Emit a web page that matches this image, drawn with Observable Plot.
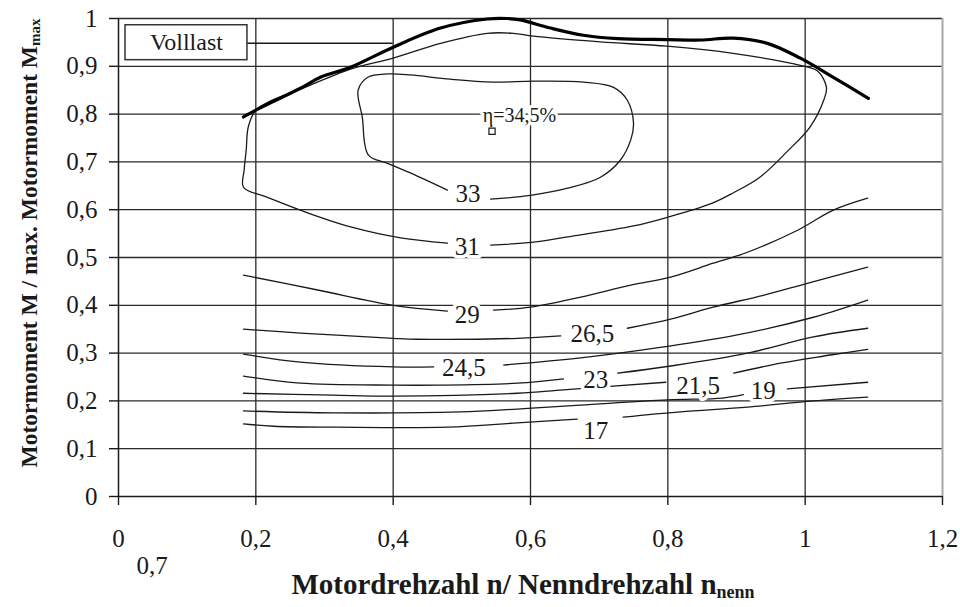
<!DOCTYPE html>
<html><head><meta charset="utf-8">
<script src="https://cdn.jsdelivr.net/npm/d3@7"></script>
<script src="https://cdn.jsdelivr.net/npm/@observablehq/plot@0.6"></script>
<style>body{margin:0;background:#fff} svg{display:block} svg text{font-family:"Liberation Serif","Times New Roman",serif !important}</style>
</head><body><div id="chart"></div>
<script>
// ---- ticks ----
const xTicks = [0, 0.2, 0.4, 0.6, 0.8, 1, 1.2];
const yTicks = [0, 0.1, 0.2, 0.3, 0.4, 0.5, 0.6, 0.7, 0.8, 0.9, 1];
const fmt = d => String(d).replace(".", ",");

// ---- full load curve (Volllast) ----
const fullLoadX = [0.182,0.202,0.265,0.294,0.338,0.400,0.469,0.537,0.566,0.585,0.629,0.677,0.727,0.799,0.848,0.895,0.945,0.993,1.041,1.092];
const fullLoadY = [0.794,0.810,0.854,0.877,0.898,0.940,0.980,0.999,1.000,0.997,0.980,0.965,0.958,0.956,0.955,0.959,0.948,0.917,0.877,0.833];

// ---- efficiency iso-lines (segments split where the label sits) ----
const iso33 = [[[0.542,0.622],[0.600,0.630],[0.654,0.645],[0.702,0.668],[0.731,0.704],[0.746,0.746],[0.750,0.781],[0.741,0.829],[0.721,0.856],[0.677,0.867],[0.604,0.869],[0.546,0.867],[0.483,0.873],[0.425,0.882],[0.392,0.884],[0.363,0.877],[0.349,0.850],[0.355,0.794],[0.364,0.714],[0.392,0.697],[0.425,0.677],[0.479,0.641]]];
const iso31 = [[[0.542,0.526],[0.604,0.532],[0.654,0.543],[0.750,0.566],[0.799,0.584],[0.862,0.612],[0.895,0.635],[0.934,0.668],[0.974,0.722],[1.007,0.773],[1.027,0.829],[1.031,0.856],[1.018,0.890],[0.993,0.902],[0.895,0.927],[0.799,0.942],[0.702,0.951],[0.604,0.963],[0.575,0.969],[0.537,0.969],[0.469,0.948],[0.400,0.917],[0.338,0.894],[0.265,0.852],[0.221,0.827],[0.200,0.808],[0.189,0.773],[0.186,0.725],[0.183,0.683],[0.182,0.647],[0.217,0.626],[0.294,0.584],[0.338,0.564],[0.411,0.541],[0.479,0.530]]];
const iso29 = [[[0.182,0.463],[0.290,0.432],[0.400,0.400],[0.479,0.388]],
               [[0.546,0.390],[0.600,0.396],[0.673,0.417],[0.746,0.442],[0.804,0.459],[0.866,0.488],[0.916,0.511],[0.989,0.557],[1.041,0.599],[1.091,0.624]]];
const iso265 = [[[0.182,0.350],[0.265,0.342],[0.400,0.331],[0.435,0.329],[0.581,0.331],[0.644,0.336]],
                [[0.741,0.352],[0.804,0.371],[0.866,0.396],[0.939,0.421],[1.003,0.446],[1.091,0.480]]];
const iso245 = [[[0.182,0.298],[0.265,0.281],[0.400,0.271],[0.459,0.271]],
                [[0.561,0.275],[0.673,0.290],[0.794,0.313],[0.901,0.338],[1.012,0.375],[1.091,0.411]]];
const iso23 = [[[0.182,0.252],[0.265,0.237],[0.400,0.233],[0.465,0.233],[0.581,0.237],[0.648,0.246]],
               [[0.727,0.258],[0.804,0.273],[0.916,0.300],[1.012,0.334],[1.091,0.352]]];
const iso215 = [[[0.182,0.216],[0.313,0.212],[0.400,0.210],[0.581,0.216],[0.648,0.223],[0.797,0.239]],
                [[0.896,0.258],[0.964,0.279],[1.037,0.296],[1.091,0.308]]];
const iso19 = [[[0.182,0.179],[0.313,0.175],[0.498,0.177],[0.581,0.183],[0.673,0.191],[0.799,0.202],[0.880,0.206],[0.910,0.213]],
               [[0.974,0.225],[1.091,0.239]]];
const iso17 = [[[0.182,0.152],[0.226,0.147],[0.319,0.145],[0.479,0.145],[0.581,0.154],[0.668,0.162]],
               [[0.735,0.166],[0.818,0.177],[0.916,0.187],[1.012,0.200],[1.091,0.208]]];

// ---- iso-line labels ----
const labelText = ["33", "31", "29", "26,5", "24,5", "23", "21,5", "19", "17"];
const labelX    = [0.509, 0.508, 0.508, 0.690, 0.503, 0.695, 0.844, 0.939, 0.695];
const labelY    = [0.632, 0.521, 0.380, 0.340, 0.269, 0.243, 0.231, 0.220, 0.137];

// ---- best point ----
const bestText = "η=34,5%";
const bestLabel = [0.584, 0.797];
const bestPoint = [0.544, 0.764];

// ---- legend box "Volllast" ----
const legendText = "Volllast";
const legendBox = [0.0102, 0.1878, 0.9128, 0.9859];   // x1, x2, y1, y2
const legendLeader = [0.1878, 0.400, 0.9483];         // x1, x2, y

// build tables
const isoSets = [["33",iso33],["31",iso31],["29",iso29],["26,5",iso265],["24,5",iso245],["23",iso23],["21,5",iso215],["19",iso19],["17",iso17]];
const isoRows = [];
isoSets.forEach(([lvl, segs]) => segs.forEach((seg, i) => seg.forEach(([x, y]) => isoRows.push({id: lvl + "-" + i, x, y}))));
const fullLoad = fullLoadX.map((x, i) => ({x, y: fullLoadY[i]}));
const labels = labelText.map((t, i) => ({t, x: labelX[i], y: labelY[i]}));

const font = '"Liberation Serif", "Times New Roman", serif';
const ink = "#1a1a1a";

const chart = Plot.plot({
  width: 960, height: 607,
  marginLeft: 118, marginRight: 18, marginTop: 18, marginBottom: 111,
  x: {domain: [0, 1.2]},
  y: {domain: [0, 1]},
  style: {fontFamily: font, background: "white", color: ink},
  marks: [
    Plot.gridY(yTicks.filter(t => t > 0), {stroke: "#2a2a2a", strokeOpacity: 1, strokeWidth: 1.3}),
    Plot.gridX(xTicks.filter(t => t > 0 && t < 1.2), {stroke: "#2a2a2a", strokeOpacity: 1, strokeWidth: 1.3}),
    Plot.ruleX([1.2], {stroke: "#a8a8a8", strokeWidth: 2}),
    Plot.ruleX([0], {stroke: ink, strokeWidth: 1.5}),
    Plot.ruleY([0], {stroke: ink, strokeWidth: 1.5}),
    Plot.axisY(yTicks, {tickSize: 9, tickPadding: 12, fontSize: 25, fontFamily: font, tickFormat: fmt, label: null, stroke: ink, strokeWidth: 1.4}),
    Plot.axisX(xTicks, {tickSize: 9, tickPadding: 24, fontSize: 25, fontFamily: font, tickFormat: fmt, label: null, stroke: ink, strokeWidth: 1.4}),
    Plot.line(isoRows, {x: "x", y: "y", z: "id", curve: "catmull-rom", stroke: ink, strokeWidth: 1.3}),
    Plot.line(fullLoad, {x: "x", y: "y", curve: "catmull-rom", stroke: "#000", strokeWidth: 3.2}),
    Plot.text(labels, {x: "x", y: "y", text: "t", fontSize: 25, fontFamily: font, fill: ink, stroke: "white", strokeWidth: 7, paintOrder: "stroke", lineAnchor: "middle"}),
    Plot.text([bestLabel], {x: d => d[0], y: d => d[1], text: () => bestText, fontSize: 20, fontFamily: font, fill: ink, stroke: "white", strokeWidth: 6, paintOrder: "stroke", lineAnchor: "middle"}),
    Plot.dot([bestPoint], {x: d => d[0], y: d => d[1], symbol: "square", r: 3.5, fill: "white", stroke: ink, strokeWidth: 1.2}),
    Plot.ruleY([legendLeader], {x1: d => d[0], x2: d => d[1], y: d => d[2], stroke: ink, strokeWidth: 1.4}),
    Plot.rect([legendBox], {x1: d => d[0], x2: d => d[1], y1: d => d[2], y2: d => d[3], fill: "white", stroke: "#333", strokeWidth: 1.5}),
    Plot.text([legendBox], {x: d => (d[0] + d[1]) / 2, y: d => (d[2] + d[3]) / 2, text: () => legendText, fontSize: 24, fontFamily: font, fill: ink, lineAnchor: "middle"})
  ]
});
document.getElementById("chart").appendChild(chart);

// axis titles (with subscripts)
const svg = d3.select(chart);
const xt = svg.append("text").attr("x", 523).attr("y", 594).attr("text-anchor", "middle")
  .attr("font-family", font).attr("font-weight", "bold").attr("font-size", 29).attr("fill", ink);
xt.append("tspan").text("Motordrehzahl n/ Nenndrehzahl n");
xt.append("tspan").attr("font-size", 18).attr("dy", 4).text("nenn");

const yt = svg.append("text").attr("transform", "translate(37,243) rotate(-90)").attr("text-anchor", "middle")
  .attr("font-family", font).attr("font-weight", "bold").attr("font-size", 23.5).attr("fill", ink);
yt.append("tspan").text("Motormoment M / max. Motormoment M");
yt.append("tspan").attr("font-size", 15).attr("dy", 3).text("max");

svg.append("text").attr("x", 152).attr("y", 574).attr("text-anchor", "middle")
  .attr("font-family", font).attr("font-size", 25).attr("fill", ink).text("0,7");
</script>
</body></html>
